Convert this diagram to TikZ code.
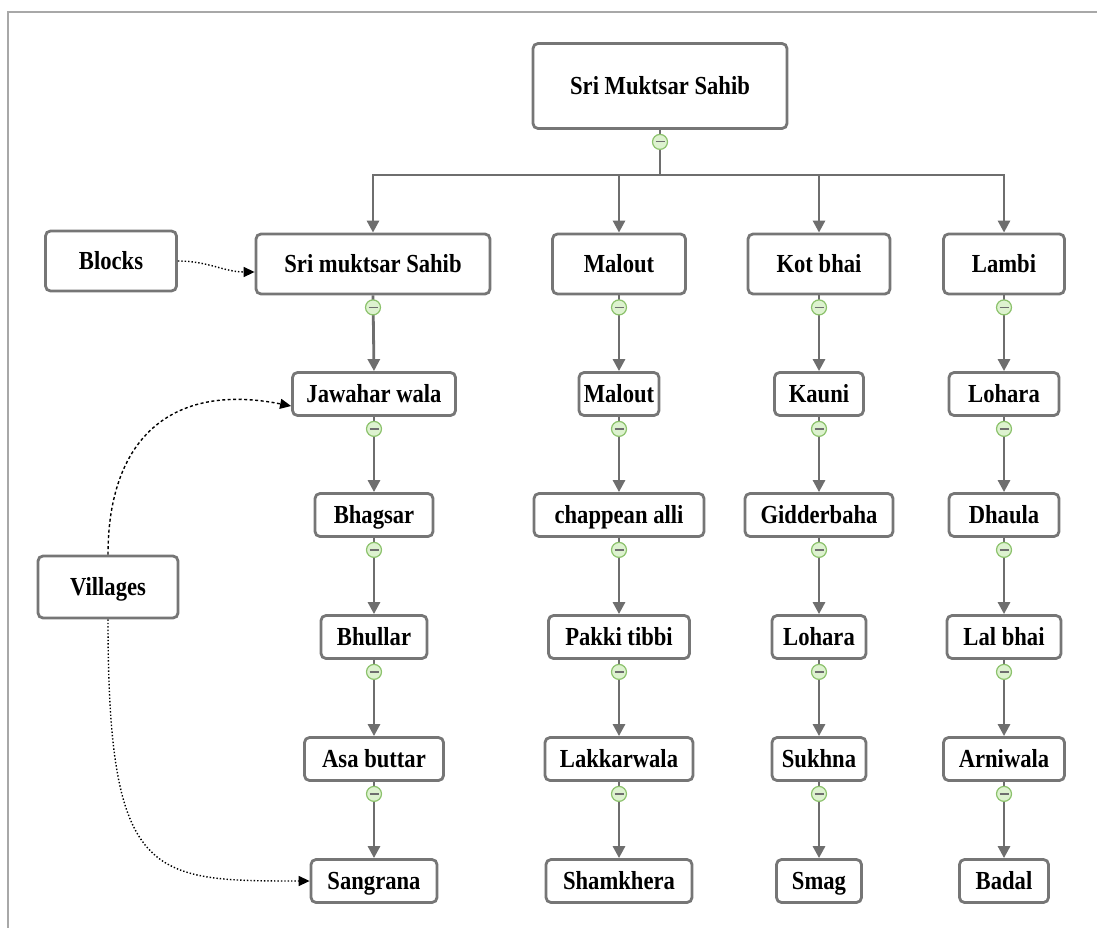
\documentclass[tikz,border=0pt]{standalone}
\usepackage{fontspec}
\usepackage{graphicx}
\setmainfont{Liberation Serif}
\usetikzlibrary{arrows.meta}
\definecolor{boxgray}{HTML}{767676}
\definecolor{linegray}{HTML}{6E6E6E}
\definecolor{cgreen}{HTML}{8CC26C}
\definecolor{cfill}{HTML}{DDF2CF}
\definecolor{framegray}{HTML}{A8A8A8}
\newcommand\sq[1]{\scalebox{0.87}[1]{#1}}
\tikzset{
  box/.style={draw=boxgray, line width=2.8pt, rounded corners=5pt, fill=white,
    minimum height=43pt, inner sep=0pt, text height=17pt, text depth=0pt,
    font=\fontsize{26}{30}\selectfont\bfseries},
  conn/.style={draw=linegray, line width=2.8pt, -{Triangle[length=12pt,width=12pt]}},
  bus/.style={draw=linegray, line width=2.8pt},
  note/.style={draw=black, line width=1.4pt, dotted, -{Triangle[length=11pt,width=10pt]}},
  notedash/.style={draw=black, line width=1.4pt, dash pattern=on 3pt off 2.5pt, -{Triangle[length=11pt,width=10pt]}},
  col/.style={circle, draw=cgreen, fill=cfill, line width=1.2pt, minimum size=15pt, inner sep=0pt,
    path picture={\draw[linegray, line width=1.2pt]
      ([xshift=-4.5pt]path picture bounding box.center) -- ([xshift=4.5pt]path picture bounding box.center);}},
}
\begin{document}
\begin{tikzpicture}[x=1pt, y=-1pt]
\useasboundingbox (0,0) rectangle (1097,928);
\draw[framegray, line width=2.5pt] (8,928) -- (8,12) -- (1097,12);

% root
\node[box, minimum width=254pt, minimum height=85pt] (root) at (660,86) {\sq{Sri Muktsar Sahib}};

% level 1 blocks
\node[box, minimum width=234pt, minimum height=60pt] (sms) at (373,264) {\sq{Sri muktsar Sahib}};
\node[box, minimum width=133pt, minimum height=60pt] (mal) at (619,264) {\sq{Malout}};
\node[box, minimum width=142pt, minimum height=60pt] (kot) at (819,264) {\sq{Kot bhai}};
\node[box, minimum width=121pt, minimum height=60pt] (lam) at (1004,264) {\sq{Lambi}};

% legend boxes
\node[box, minimum width=131pt, minimum height=60pt] (blk) at (111,261) {\sq{Blocks}};
\node[box, minimum width=140pt, minimum height=62pt] (vil) at (108,587) {\sq{Villages}};

% column 1
\node[box, minimum width=163pt] (jaw) at (374,394) {\sq{Jawahar wala}};
\node[box, minimum width=118pt] (bha) at (374,515) {\sq{Bhagsar}};
\node[box, minimum width=106pt] (bhu) at (374,637) {\sq{Bhullar}};
\node[box, minimum width=139pt] (asa) at (374,759) {\sq{Asa buttar}};
\node[box, minimum width=126pt] (san) at (374,881) {\sq{Sangrana}};
% column 2
\node[box, minimum width=80pt] (mlt) at (619,394) {\sq{Malout}};
\node[box, minimum width=170pt] (cha) at (619,515) {\sq{chappean alli}};
\node[box, minimum width=141pt] (pak) at (619,637) {\sq{Pakki tibbi}};
\node[box, minimum width=148pt] (lak) at (619,759) {\sq{Lakkarwala}};
\node[box, minimum width=146pt] (sha) at (619,881) {\sq{Shamkhera}};
% column 3
\node[box, minimum width=89pt] (kau) at (819,394) {\sq{Kauni}};
\node[box, minimum width=148pt] (gid) at (819,515) {\sq{Gidderbaha}};
\node[box, minimum width=94pt] (lha) at (819,637) {\sq{Lohara}};
\node[box, minimum width=94pt] (suk) at (819,759) {\sq{Sukhna}};
\node[box, minimum width=85pt] (sma) at (819,881) {\sq{Smag}};
% column 4
\node[box, minimum width=110pt] (lhb) at (1004,394) {\sq{Lohara}};
\node[box, minimum width=110pt] (dha) at (1004,515) {\sq{Dhaula}};
\node[box, minimum width=114pt] (lal) at (1004,637) {\sq{Lal bhai}};
\node[box, minimum width=121pt] (arn) at (1004,759) {\sq{Arniwala}};
\node[box, minimum width=89pt] (bad) at (1004,881) {\sq{Badal}};

% bus
\coordinate (bc) at (660,175);
\coordinate (b1) at (373,175);
\coordinate (b2) at (619,175);
\coordinate (b3) at (819,175);
\coordinate (b4) at (1004,175);
\draw[bus] (root.south) -- (bc);
\draw[bus, line cap=rect] (b1) -- (b4);
\foreach \b/\n in {b1/sms,b2/mal,b3/kot,b4/lam}
  \draw[conn] (\b) -- (\n.north);

% vertical chains
\foreach \a/\b in {sms/jaw,jaw/bha,bha/bhu,bhu/asa,asa/san,
                   mal/mlt,mlt/cha,cha/pak,pak/lak,lak/sha,
                   kot/kau,kau/gid,gid/lha,lha/suk,suk/sma,
                   lam/lhb,lhb/dha,dha/lal,lal/arn,arn/bad}
  \draw[conn] (\a.south) -- (\b.north);

% collapse markers
\foreach \n in {root,sms,mal,kot,lam,jaw,bha,bhu,asa,mlt,cha,pak,lak,kau,gid,lha,suk,lhb,dha,lal,arn}
  \node[col] (c-\n) at ([yshift=-12pt]\n.south) {};

% annotation connectors
\draw[note] (blk.east) to[out=0,in=180] ([yshift=-8pt]sms.west);
\draw[notedash] (vil.north) .. controls (108,440) and (170,382) .. ([yshift=-12pt]jaw.west);
\draw[note] (vil.south) .. controls (108,880) and (150,881) .. (san.west);
\end{tikzpicture}
\end{document}
